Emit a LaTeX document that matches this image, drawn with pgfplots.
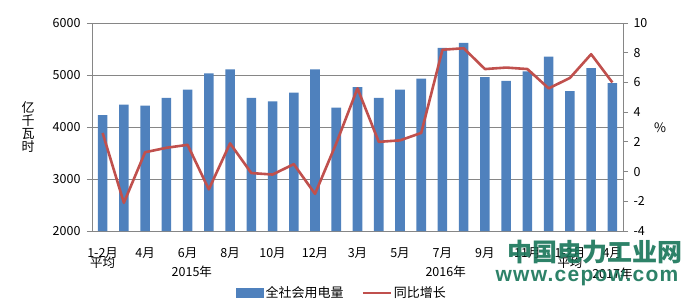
\documentclass[border=0pt]{standalone}
\usepackage{fontspec}
\setmainfont{Noto Sans CJK SC}
\newfontfamily\wmfont[LetterSpace=6]{Liberation Sans}
\usepackage{pgfplots}
\usepackage{pgfplotstable}
\pgfplotsset{compat=1.18}
\definecolor{barblue}{RGB}{79,129,189}
\definecolor{linered}{RGB}{192,80,77}
\definecolor{gridgray}{RGB}{134,134,134}
\definecolor{wmgreen}{RGB}{22,116,88}

\pgfplotstableread{
x v g
0 4230 2.6
1 4430 -2.1
2 4410 1.3
3 4560 1.6
4 4720 1.8
5 5030 -1.2
6 5110 1.9
7 4560 -0.1
8 4495 -0.2
9 4660 0.5
10 5110 -1.5
11 4375 1.9
12 4765 5.6
13 4560 2.0
14 4720 2.1
15 4930 2.6
16 5520 8.2
17 5620 8.3
18 4960 6.9
19 4885 7.0
20 5070 6.9
21 5355 5.6
22 4690 6.3
23 5130 7.9
24 4845 6.0
}\data

\begin{document}
\begin{tikzpicture}
\path[use as bounding box] (0pt,0pt) rectangle (686pt,308pt);
\begin{axis}[at={(92pt,77pt)}, anchor=south west, scale only axis,
  width=531pt, height=208pt,
  xmin=-0.5, xmax=24.5, ymin=2000, ymax=6000,
  ytick={2000,3000,...,6000}, ytick pos=left,
  xtick={0,2,...,24},
  xticklabels={{1-2月\\[-3pt]平均},4月,6月,8月,10月,12月,3月,5月,7月,9月,11月,{1-2月\\[-3pt]平均},4月},
  xtick style={draw=none},
  xticklabel style={align=center, anchor=north, yshift=-8pt, font=\fontsize{12.5}{13}\selectfont},
  yticklabel style={font=\fontsize{12.5}{13}\selectfont, xshift=-3pt},
  tick align=outside, major tick length=5pt,
  ytick style={gridgray, line width=0.8pt},
  axis line style={gridgray, line width=0.8pt},
  ymajorgrids, grid style={gridgray, line width=0.8pt},
  /pgf/number format/assume math mode=true,
  scaled y ticks=false, yticklabel={\pgfmathprintnumber[fixed,1000 sep={}]{\tick}},
  clip=false]
\addplot[ybar, bar width=0.45, fill=barblue, draw=none] table[x=x,y=v]{\data};
\node[font=\fontsize{12.5}{13}\selectfont] at (axis cs:4.2,2000) [yshift=-41pt] {2015年};
\node[font=\fontsize{12.5}{13}\selectfont] at (axis cs:16.15,2000) [yshift=-41pt] {2016年};
\node[font=\fontsize{12.5}{13}\selectfont] at (axis cs:24,2000) [yshift=-43pt] {2017年};
\end{axis}
\begin{axis}[at={(92pt,77pt)}, anchor=south west, scale only axis,
  width=531pt, height=208pt,
  xmin=-0.5, xmax=24.5, ymin=-4, ymax=10,
  ytick={-4,-2,...,10},
  axis y line*=right, axis x line=none,
  tick align=outside, major tick length=5pt,
  ytick style={gridgray, line width=0.8pt},
  axis line style={gridgray, line width=0.8pt},
  yticklabel style={font=\fontsize{12.5}{13}\selectfont, xshift=2pt},
  /pgf/number format/assume math mode=true,
  legend style={at={(0.471,-0.298)}, anchor=center, draw=none, fill=none,
    legend columns=2, font=\fontsize{13}{14}\selectfont,
    /tikz/every even column/.append style={column sep=16pt}},
  legend cell align=left]
\addlegendimage{legend image code/.code={\fill[barblue] (0pt,-4.5pt) rectangle (27pt,4.5pt);}}
\addlegendentry{全社会用电量}
\addplot[linered, line width=2.6pt, line join=round, mark=none,
  legend image code/.code={\draw[linered, line width=2.2pt] (0pt,0pt) -- (28pt,0pt);}] table[x=x,y=g]{\data};
\addlegendentry{同比增长}
\end{axis}
\node[font=\fontsize{13}{15}\selectfont, align=center] at (28pt,181pt) {亿\\[-2pt]千\\[-2pt]瓦\\[-2pt]时};
\node[font=\fontsize{13}{14}\selectfont] at (660pt,180pt) {\%};
\node[font=\fontsize{25}{26}\selectfont\bfseries, text=wmgreen, opacity=0.9] at (595pt,56pt) {中国电力工业网};
\node[font=\wmfont\fontsize{21}{22}\selectfont\bfseries, text=wmgreen, opacity=0.9] at (587pt,30pt) {www.cepow.com};
\end{tikzpicture}
\end{document}
